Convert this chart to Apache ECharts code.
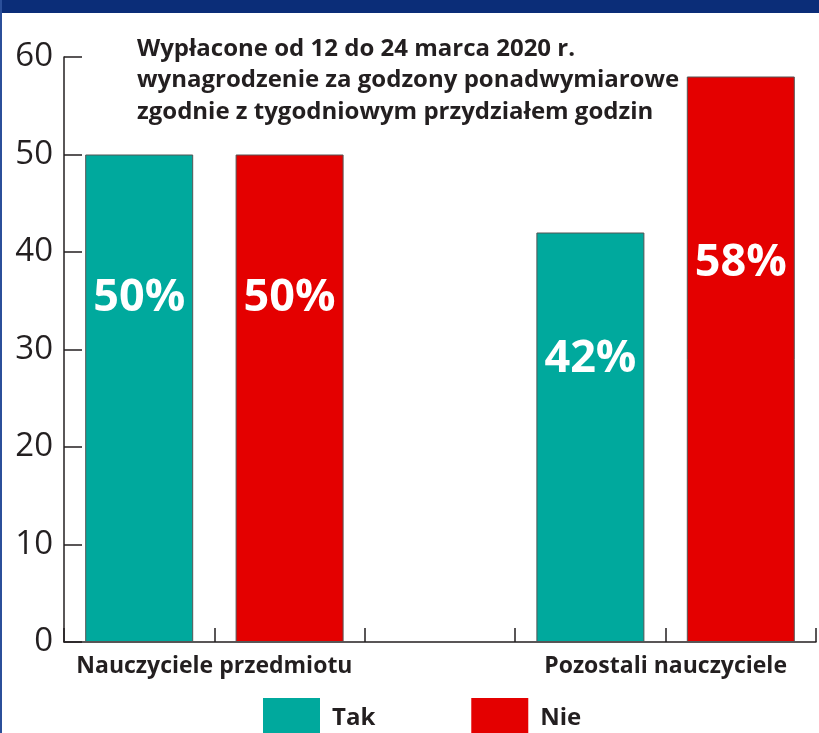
<!DOCTYPE html>
<html>
<head>
<meta charset="utf-8">
<script src="https://cdn.jsdelivr.net/npm/echarts@6/dist/echarts.min.js"></script>
<style>
  html, body { margin: 0; padding: 0; background: #fff; }
  #main { width: 819px; height: 733px; }
</style>
</head>
<body>
<div id="main"></div>
<script>
// 5 slots on the x axis, the middle one stays empty
var slots = ['a', 'b', 'c', 'd', 'e'];
var groupLabels = ['', 'Nauczyciele przedmiotu', '', '', 'Pozostali nauczyciele', ''];
var takValues = [50, null, null, 42, null];
var nieValues = [null, 50, null, null, 58];
var yTicks = [0, 10, 20, 30, 40, 50, 60];
var titleLines = [
  'Wypłacone od 12 do 24 marca 2020 r.',
  'wynagrodzenie za godzony ponadwymiarowe',
  'zgodnie z tygodniowym przydziałem godzin'
];

var teal = '#00a99d';
var red = '#e40000';
var ink = '#231f20';

// label sits at about 30% of the bar height from its top
function withLabels(values) {
  return values.map(function (v) {
    if (v == null) return null;
    var topPart = v === 58 ? '33%' : (v === 42 ? '31%' : '29.5%');
    return { value: v, label: { position: ['50%', topPart] } };
  });
}

var chart = echarts.init(document.getElementById('main'));
chart.setOption({
  animation: false,
  textStyle: { fontFamily: 'Open Sans' },
  title: {
    text: titleLines.join('\n'),
    left: 137,
    top: 33,
    padding: 0,
    textStyle: { fontSize: 24, fontWeight: 'bold', color: ink, lineHeight: 31.5, fontFamily: 'Open Sans' }
  },
  graphic: [
    { type: 'rect', left: 0, top: 0, shape: { width: 819, height: 13 }, style: { fill: '#0b2d78' } },
    { type: 'rect', left: 0, top: 0, shape: { width: 2, height: 733 }, style: { fill: '#2b4f9a' } }
  ],
  legend: {
    data: ['Tak', 'Nie'],
    left: 263,
    top: 698,
    padding: 0,
    itemWidth: 57,
    itemHeight: 40,
    itemGap: 96,
    icon: 'rect',
    selectedMode: false,
    itemStyle: { borderWidth: 0 },
    textStyle: { fontSize: 24, fontWeight: 'bold', color: ink, width: 99, padding: [0, 0, 0, 7] }
  },
  grid: { left: 64, right: 0, top: 57, bottom: 91, containLabel: false },
  xAxis: [
    {
      type: 'category',
      data: slots,
      axisLine: { lineStyle: { color: ink, width: 1.5 } },
      axisTick: { show: true, inside: true, length: 14, lineStyle: { color: ink, width: 1.5 } },
      axisLabel: { show: false }
    },
    {
      type: 'category',
      position: 'bottom',
      boundaryGap: false,
      data: groupLabels,
      axisLine: { show: false },
      axisTick: { show: false },
      axisLabel: { interval: 0, margin: 13, fontSize: 23, fontWeight: 'bold', color: ink }
    }
  ],
  yAxis: {
    type: 'value',
    min: 0,
    max: 60,
    interval: 10,
    splitLine: { show: false },
    axisLine: { show: true, lineStyle: { color: ink, width: 1.5 } },
    axisTick: { show: true, inside: true, length: 18, lineStyle: { color: ink, width: 1.5 } },
    axisLabel: {
      fontSize: 33,
      color: ink,
      margin: 11,
      formatter: function (v) { return yTicks.indexOf(v) >= 0 ? String(v) : ''; }
    }
  },
  series: [
    {
      name: 'Tak',
      type: 'bar',
      barWidth: 108,
      barGap: '-100%',
      data: withLabels(takValues),
      itemStyle: { color: teal, borderColor: '#555', borderWidth: 1 },
      label: { show: true, formatter: '{c}%', color: '#fff', fontSize: 45, fontWeight: 'bold', align: 'center', verticalAlign: 'middle' }
    },
    {
      name: 'Nie',
      type: 'bar',
      barWidth: 108,
      data: withLabels(nieValues),
      itemStyle: { color: red, borderColor: '#555', borderWidth: 1 },
      label: { show: true, formatter: '{c}%', color: '#fff', fontSize: 45, fontWeight: 'bold', align: 'center', verticalAlign: 'middle' }
    }
  ]
});
</script>
</body>
</html>
